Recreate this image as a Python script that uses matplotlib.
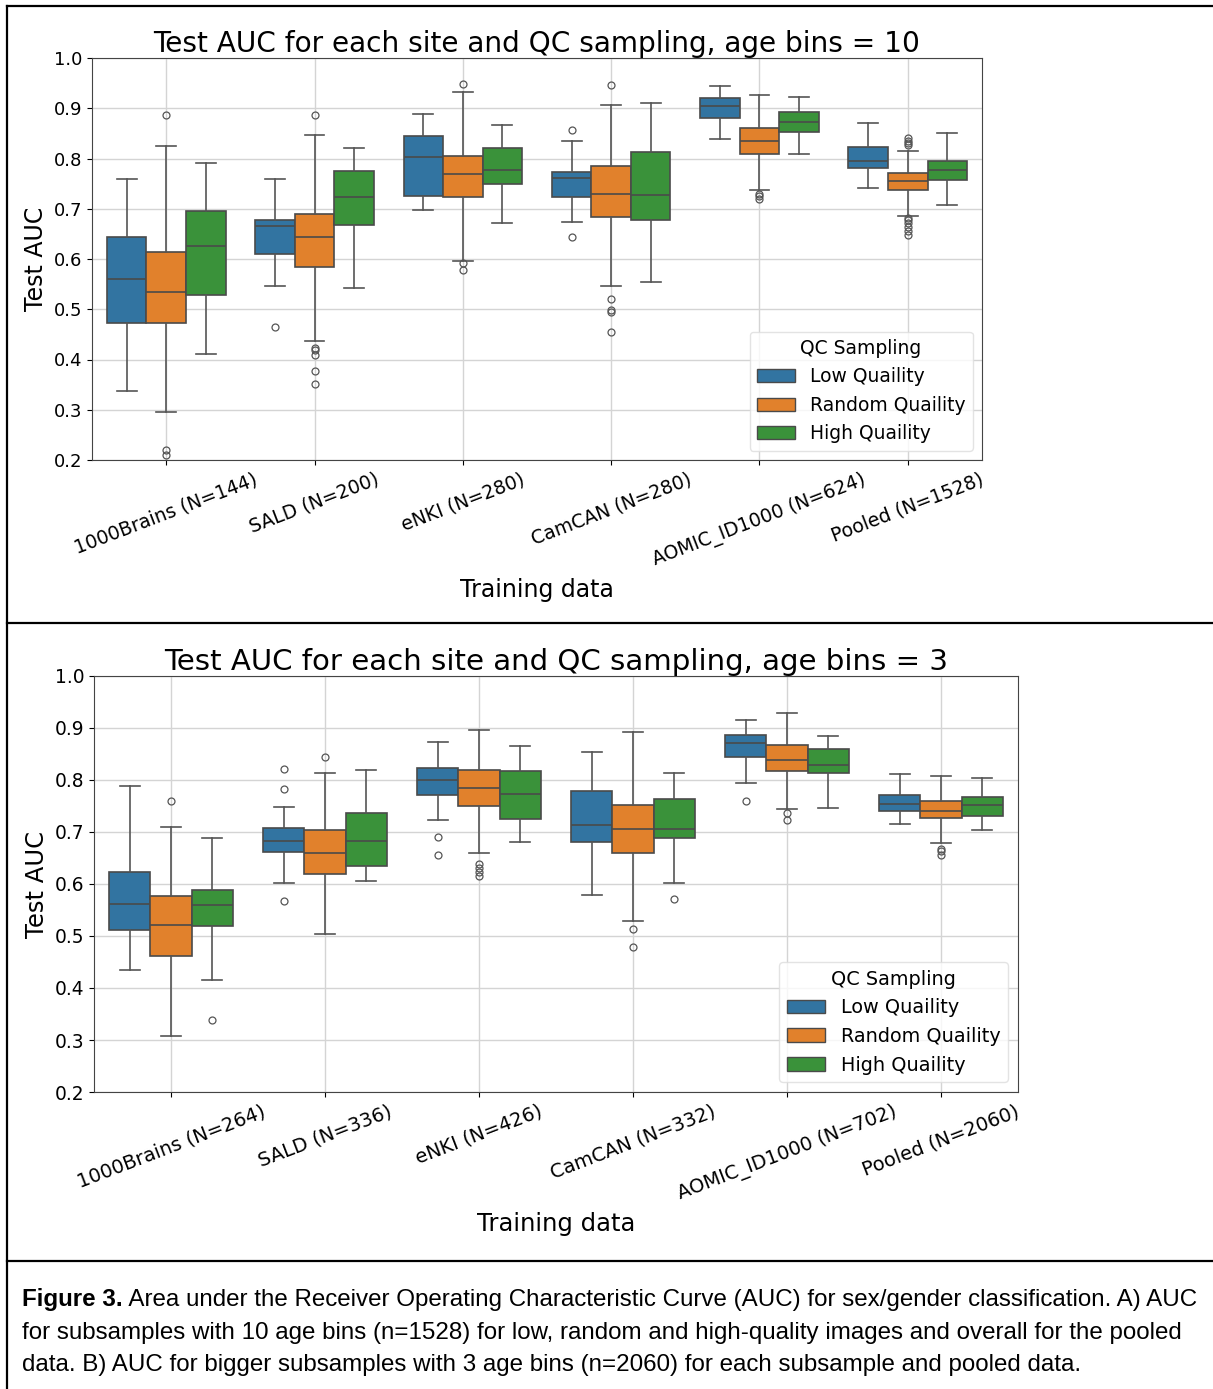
import matplotlib
matplotlib.use("Agg")
import matplotlib.pyplot as plt
from matplotlib.patches import Patch
from matplotlib.lines import Line2D

# ---- data (whislo, q1, med, q3, whishi) per site ----
qualities = ["Low Quaility", "Random Quaility", "High Quaility"]
colors = ["#3274a1", "#e1812c", "#3a923a"]

sites10 = ["1000Brains (N=144)", "SALD (N=200)", "eNKI (N=280)",
           "CamCAN (N=280)", "AOMIC_ID1000 (N=624)", "Pooled (N=1528)"]
bins10_low = [[0.338, 0.472, 0.561, 0.644, 0.760],
              [0.546, 0.610, 0.665, 0.678, 0.760],
              [0.697, 0.726, 0.803, 0.845, 0.888],
              [0.673, 0.723, 0.761, 0.773, 0.834],
              [0.839, 0.880, 0.904, 0.920, 0.944],
              [0.741, 0.781, 0.795, 0.823, 0.871]]
bins10_low_fliers = [[], [0.464], [], [0.856, 0.644], [], []]
bins10_rand = [[0.295, 0.472, 0.535, 0.614, 0.825],
               [0.436, 0.585, 0.643, 0.689, 0.846],
               [0.597, 0.723, 0.770, 0.805, 0.932],
               [0.547, 0.683, 0.730, 0.785, 0.907],
               [0.737, 0.809, 0.835, 0.860, 0.927],
               [0.686, 0.737, 0.756, 0.772, 0.815]]
bins10_rand_fliers = [[0.886, 0.220, 0.209],
                      [0.886, 0.423, 0.418, 0.409, 0.377, 0.351],
                      [0.948, 0.592, 0.579],
                      [0.947, 0.520, 0.498, 0.494, 0.455],
                      [0.729, 0.725, 0.719],
                      [0.841, 0.835, 0.830, 0.826, 0.681, 0.677, 0.671, 0.663, 0.655, 0.648]]
bins10_high = [[0.410, 0.529, 0.626, 0.695, 0.791],
               [0.543, 0.667, 0.724, 0.775, 0.820],
               [0.671, 0.749, 0.777, 0.821, 0.866],
               [0.555, 0.678, 0.727, 0.812, 0.911],
               [0.809, 0.852, 0.872, 0.892, 0.922],
               [0.707, 0.758, 0.777, 0.796, 0.850]]
bins10_high_fliers = [[], [], [], [], [], []]

sites3 = ["1000Brains (N=264)", "SALD (N=336)", "eNKI (N=426)",
          "CamCAN (N=332)", "AOMIC_ID1000 (N=702)", "Pooled (N=2060)"]
bins3_low = [[0.434, 0.512, 0.561, 0.624, 0.789],
             [0.602, 0.661, 0.683, 0.707, 0.748],
             [0.723, 0.771, 0.800, 0.824, 0.874],
             [0.579, 0.681, 0.713, 0.779, 0.854],
             [0.794, 0.844, 0.871, 0.887, 0.915],
             [0.715, 0.741, 0.754, 0.772, 0.811]]
bins3_low_fliers = [[], [0.822, 0.782, 0.568], [0.691, 0.656], [], [0.760], []]
bins3_rand = [[0.307, 0.461, 0.521, 0.577, 0.709],
              [0.504, 0.620, 0.660, 0.703, 0.814],
              [0.660, 0.750, 0.784, 0.819, 0.897],
              [0.528, 0.660, 0.706, 0.752, 0.892],
              [0.744, 0.817, 0.839, 0.867, 0.929],
              [0.678, 0.726, 0.741, 0.759, 0.807]]
bins3_rand_fliers = [[0.760], [0.845], [0.638, 0.631, 0.623, 0.615],
                     [0.513, 0.479], [0.737, 0.723], [0.668, 0.663, 0.656]]
bins3_high = [[0.416, 0.519, 0.560, 0.588, 0.688],
              [0.605, 0.635, 0.683, 0.736, 0.819],
              [0.680, 0.725, 0.774, 0.817, 0.865],
              [0.601, 0.689, 0.706, 0.764, 0.814],
              [0.747, 0.814, 0.828, 0.860, 0.885],
              [0.704, 0.731, 0.752, 0.768, 0.803]]
bins3_high_fliers = [[0.339], [], [], [0.572], [], []]

W, H = 1213, 1389
fig = plt.figure(figsize=(W / 100, H / 100), dpi=100)


def rect(l, t, r, b):
    return [l / W, 1 - b / H, (r - l) / W, (b - t) / H]


def draw_panel(ax, sites, groups, fliers, title, k=1.0, title_fs=20.2):
    width = 0.8 / 3
    for j, (boxes, fl) in enumerate(zip(groups, fliers)):
        stats = []
        for s, f in zip(boxes, fl):
            stats.append(dict(whislo=s[0], q1=s[1], med=s[2], q3=s[3], whishi=s[4], fliers=f))
        pos = [i + (j - 1) * width for i in range(len(sites))]
        ax.bxp(stats, positions=pos, widths=width, patch_artist=True, manage_ticks=False,
               boxprops=dict(facecolor=colors[j], edgecolor="#4a4a4a", linewidth=1.2),
               medianprops=dict(color="#4a4a4a", linewidth=1.2),
               whiskerprops=dict(color="#555555", linewidth=1.2),
               capprops=dict(color="#555555", linewidth=1.2),
               flierprops=dict(marker="o", markerfacecolor="none", markeredgecolor="#555555",
                               markersize=5, markeredgewidth=0.9))
    ax.set_xlim(-0.5, len(sites) - 0.5)
    ax.set_ylim(0.2, 1.0)
    ax.set_xticks(range(len(sites)))
    ax.set_xticklabels(sites, rotation=21, ha="center", fontsize=13.6 * k)
    ax.tick_params(axis="y", labelsize=13 * k)
    ax.grid(True, color="#d4d4d4", linewidth=1)
    ax.set_axisbelow(True)
    for sp in ax.spines.values():
        sp.set_color("#444444")
    ax.set_xlabel("Training data", fontsize=17 * k, labelpad=6)
    ax.set_ylabel("Test AUC", fontsize=17 * k, labelpad=4)
    ax.set_title(title, fontsize=title_fs, pad=2)
    handles = [Patch(facecolor=c, edgecolor="#4a4a4a", label=q) for c, q in zip(colors, qualities)]
    leg = ax.legend(handles=handles, title="QC Sampling", loc="lower right",
                    fontsize=13.5 * k, title_fontsize=13.5 * k, framealpha=0.8)
    leg.get_frame().set_edgecolor("#dddddd")


ax1 = fig.add_axes(rect(92, 58, 982, 460))
draw_panel(ax1, sites10, [bins10_low, bins10_rand, bins10_high],
           [bins10_low_fliers, bins10_rand_fliers, bins10_high_fliers],
           "Test AUC for each site and QC sampling, age bins = 10", k=1.0, title_fs=20.2)

ax2 = fig.add_axes(rect(94, 676, 1018, 1092))
draw_panel(ax2, sites3, [bins3_low, bins3_rand, bins3_high],
           [bins3_low_fliers, bins3_rand_fliers, bins3_high_fliers],
           "Test AUC for each site and QC sampling, age bins = 3", k=1.03, title_fs=21.1)

# frame lines around the panels
for xs, ys in [([7, W], [6, 6]), ([7, 7], [6, H]), ([7, W], [623, 623]), ([7, W], [1261, 1261])]:
    fig.add_artist(Line2D([x / W for x in xs], [1 - y / H for y in ys], color="black", linewidth=1.6))

# caption
cap_font = ["Liberation Sans Narrow", "Liberation Sans"]
lines = ["Area under the Receiver Operating Characteristic Curve (AUC) for sex/gender classification. A) AUC",
         "for subsamples with 10 age bins (n=1528) for low, random and high-quality images and overall for the pooled",
         "data. B) AUC for bigger subsamples with 3 age bins (n=2060) for each subsample and pooled data."]
fs = 16
r = fig.canvas.get_renderer()
bold = fig.text(22 / W, 1 - 1306 / H, "Figure 3.", fontsize=fs, fontweight="bold", family=cap_font)
first = fig.text(0, 1 - 1306 / H, " " + lines[0], fontsize=fs, family=cap_font)
bw = bold.get_window_extent(r).width
fw = first.get_window_extent(r).width
scale = (1200 - 22) / (bw + fw)
fs = fs * scale
bold.set_fontsize(fs)
first.set_fontsize(fs)
bw = bold.get_window_extent(r).width
first.set_x((22 + bw) / W)
fig.text(22 / W, 1 - 1339 / H, lines[1], fontsize=fs, family=cap_font)
fig.text(22 / W, 1 - 1371 / H, lines[2], fontsize=fs, family=cap_font)

fig.savefig("out.png", dpi=100)
